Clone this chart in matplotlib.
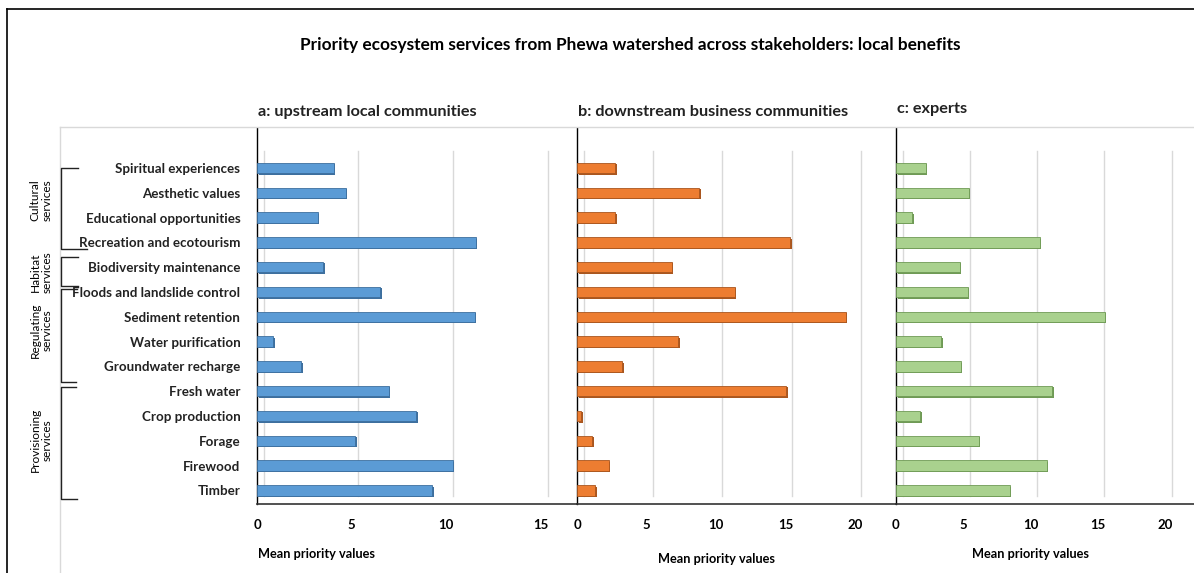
import matplotlib
matplotlib.use('Agg')
import matplotlib.pyplot as plt
from matplotlib.lines import Line2D
from matplotlib.transforms import ScaledTranslation

plt.rcParams['font.family'] = ['Lato', 'DejaVu Sans']

services = ['Spiritual experiences', 'Aesthetic values', 'Educational opportunities',
            'Recreation and ecotourism', 'Biodiversity maintenance',
            'Floods and landslide control', 'Sediment retention', 'Water purification',
            'Groundwater recharge', 'Fresh water', 'Crop production', 'Forage',
            'Firewood', 'Timber']

upstream = [4.05, 4.7, 3.2, 11.55, 3.5, 6.5, 11.5, 0.85, 2.35, 6.95, 8.4, 5.2, 10.35, 9.25]
downstream = [2.75, 8.8, 2.75, 15.35, 6.8, 11.35, 19.35, 7.3, 3.25, 15.05, 0.3, 1.1, 2.3, 1.3]
experts = [2.2, 5.4, 1.2, 10.7, 4.75, 5.35, 15.5, 3.35, 4.8, 11.6, 1.8, 6.15, 11.2, 8.45]

groups = ['Cultural\nservices', 'Habitat\nservices', 'Regulating\nservices', 'Provisioning\nservices']

W, H = 1194, 573
fig = plt.figure(figsize=(W / 100, H / 100), dpi=100)


def px_axes(x0, y0, x1, y1):
    # pixel box (top-left origin) -> figure fraction
    return fig.add_axes([x0 / W, 1 - y1 / H, (x1 - x0) / W, (y1 - y0) / H])


def fx(x):
    return x / W


def fy(y):
    return 1 - y / H


# outer border and light plot-area frame
fig.add_artist(Line2D([fx(7), fx(7)], [fy(9), 0], color='black', lw=1.2))
fig.add_artist(Line2D([fx(7), 1], [fy(9), fy(9)], color='black', lw=1.2))
fig.add_artist(Line2D([fx(60), fx(60)], [fy(127), 0], color='#d9d9d9', lw=1))
fig.add_artist(Line2D([fx(60), 1], [fy(127), fy(127)], color='#d9d9d9', lw=1))

panels = [
    (257, 577, 16.9, [0, 5, 10, 15], upstream, '#5B9BD5', '#3d6f9e',
     'a: upstream local communities', 317),
    (577, 896, 22.95, [0, 5, 10, 15, 20], downstream, '#ED7D31', '#a9561f',
     'b: downstream business communities', 716),
    (896, 1194, 22.15, [0, 5, 10, 15, 20], experts, '#A9D18E', '#6f9a55',
     'c: experts', 1030),
]

ypos = list(range(len(services)))

for i, (x0, x1, xmax, ticks, vals, col, edge, sub, labx) in enumerate(panels):
    ax = px_axes(x0, 128, x1, 504)
    ax.set_xlim(0, xmax)
    ax.set_ylim(13.55, -1.61)
    for s in ['top', 'right']:
        ax.spines[s].set_visible(False)
    ax.spines['left'].set_color('black')
    ax.spines['bottom'].set_color('#333333')
    ax.spines['left'].set_linewidth(1.0)
    ax.spines['bottom'].set_linewidth(1.2)

    # back-wall gridlines with a small depth shift
    shift = ax.get_xaxis_transform() + ScaledTranslation(6.5 / 100, 0, fig.dpi_scale_trans)
    for t in ticks:
        ax.plot([t, t], [0.02, 0.94], transform=shift, color='#d9d9d9', lw=1, zorder=0)

    # shadow + bars
    ax.barh(ypos, vals, height=0.42, color=edge, left=0, zorder=2,
            transform=ax.transData + ScaledTranslation(1.5 / 100, -1.5 / 100, fig.dpi_scale_trans))
    ax.barh(ypos, vals, height=0.42, color=col, edgecolor=edge, lw=0.6, zorder=3)

    ax.set_xticks(ticks)
    ax.set_xticklabels([str(t) for t in ticks], fontsize=9.5, fontweight='bold')
    ax.tick_params(axis='x', length=0, pad=11)
    if i == 0:
        ax.set_yticks(ypos)
        ax.set_yticklabels(services, fontsize=9.6, fontweight='bold', color='#222222')
        ax.tick_params(axis='y', length=0, pad=12)
    else:
        ax.set_yticks([])

    fig.text(fx(x0 + 1), fy(112 if i != 2 else 109), sub, fontsize=11.7, fontweight='bold',
             ha='left', va='center', color='#222222')
    fig.text(fx(labx), fy(554 if i != 1 else 559), 'Mean priority values', fontsize=9.2,
             fontweight='bold', ha='center', va='center')

fig.text(fx(630), fy(45), 'Priority ecosystem services from Phewa watershed across stakeholders: local benefits',
         fontsize=12.4, fontweight='bold', ha='center', va='center')

# group brackets on the left
brackets = [(168, 249, 78, 87, 200), (257, 286, 78, 78, 272),
            (289, 382, 77, 76, 330), (387, 499, 76, 77, 440)]
for (top, bot, wt, wb, yc), g in zip(brackets, groups):
    fig.add_artist(Line2D([fx(wt), fx(61), fx(61), fx(wb)],
                          [fy(top), fy(top), fy(bot), fy(bot)], color='#222222', lw=1))
    fig.text(fx(41), fy(yc), g, rotation=90, fontsize=8.6, ha='center', va='center',
             multialignment='center', linespacing=1.05)

fig.savefig('out.png', dpi=100)
